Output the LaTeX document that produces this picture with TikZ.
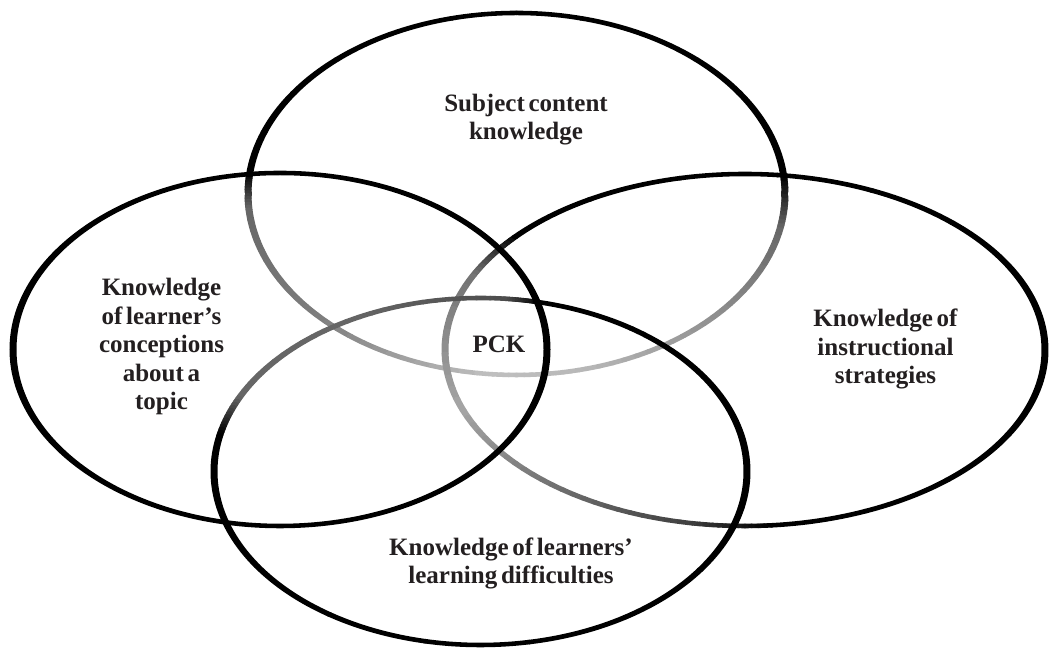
\documentclass[tikz,border=0pt]{standalone}
\usepackage{fontspec}
\setmainfont{Liberation Serif}[WordSpace=0.6]
\definecolor{ink}{HTML}{231F20}
\newcommand\garc[6]{%
  \pgfmathsetmacro\rYs{#2/0.65}%
  \foreach \i in {0,...,11}{%
    \pgfmathsetmacro\aA{#3+(#4-#3)*\i/12}%
    \pgfmathsetmacro\aB{#3+(#4-#3)*(\i+1)/12}%
    \pgfmathsetmacro\kK{#5+(#6-#5)*(\i+0.5)/12}%
    \draw[ring, draw=black!\kK] (\aA:#1 and \rYs) arc[start angle=\aA, end angle=\aB, x radius=#1, y radius=\rYs];
  }}
\begin{document}
\begin{tikzpicture}[x=1pt, y=1pt,
  ring/.style={line width=7pt, line cap=round},
  lab/.style={align=center, anchor=base, text=ink, font=\fontsize{25}{28.5}\selectfont\bfseries, inner sep=0pt}]
\useasboundingbox[fill=white] (0,0) rectangle (1050,648);
\begin{scope}[transform canvas={yscale=0.65}]
  % top ellipse (subject content knowledge)
  \begin{scope}[shift={(516.5,{454/0.65})}]
    \garc{268.5}{181}{174}{185}{100}{60}
    \garc{268.5}{181}{185}{225}{60}{50}
    \garc{268.5}{181}{225}{265}{50}{25}
    \garc{268.5}{181}{265}{285}{25}{28}
    \garc{268.5}{181}{285}{320}{28}{45}
    \garc{268.5}{181}{320}{350}{45}{60}
    \garc{268.5}{181}{350}{366}{60}{100}
  \end{scope}
  % right ellipse (instructional strategies)
  \begin{scope}[shift={(745,{298/0.65})}]
    \garc{300}{176}{140}{155}{100}{55}
    \garc{300}{176}{155}{200}{55}{35}
    \garc{300}{176}{200}{230}{35}{55}
    \garc{300}{176}{230}{260}{55}{75}
    \garc{300}{176}{260}{275}{75}{100}
  \end{scope}
  % bottom ellipse (learning difficulties)
  \begin{scope}[shift={(480.5,{176.5/0.65})}]
    \garc{266.5}{173.5}{78}{85}{100}{70}
    \garc{266.5}{173.5}{85}{120}{70}{60}
    \garc{266.5}{173.5}{120}{155}{60}{60}
    \garc{266.5}{173.5}{155}{168}{60}{100}
  \end{scope}
  % black parts
  \begin{scope}[shift={(516.5,{454/0.65})}]
    \garc{268.5}{181}{6}{174}{100}{100}
  \end{scope}
  \begin{scope}[shift={(745,{298/0.65})}]
    \garc{300}{176}{-85}{140}{100}{100}
  \end{scope}
  \begin{scope}[shift={(480.5,{176.5/0.65})}]
    \garc{266.5}{173.5}{168}{438}{100}{100}
  \end{scope}
  % left ellipse (learner's conceptions), all black
  \draw[ring] (280,{298.5/0.65}) ellipse [x radius=267, y radius={176.5/0.65}];
\end{scope}
\node[lab] (subj) at (526,508) {Subject content\\knowledge};
\node[lab] (conc) at (161.5,238) {Knowledge\\of learner’s\\conceptions\\about a\\topic};
\node[lab] (inst) at (885.5,264) {Knowledge of\\instructional\\strategies};
\node[lab] (diff) at (511,64) {Knowledge of learners’\\learning difficulties};
\node[lab] (pck) at (499,295) {PCK};
\end{tikzpicture}
\end{document}
